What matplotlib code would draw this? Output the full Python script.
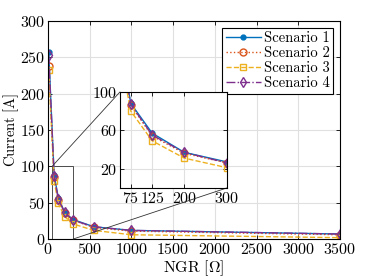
import numpy as np
import matplotlib
matplotlib.use("Agg")
import matplotlib.pyplot as plt
from mpl_toolkits.axes_grid1.inset_locator import mark_inset

plt.rcParams['font.family'] = ['cmr10', 'DejaVu Serif']
plt.rcParams['mathtext.fontset'] = 'cm'
plt.rcParams['axes.formatter.use_mathtext'] = True
plt.rcParams['font.size'] = 11.5

# data
ngr = [10, 75, 125, 200, 300, 550, 1000, 3500]
s1 = [257, 88, 57, 37, 27, 17, 12, 7]
s2 = [238, 86, 54, 36, 26, 16, 11, 6]
s3 = [232, 80, 49, 31, 21, 12, 6, 2]
s4 = [253, 87, 55, 37, 26, 17, 12, 7]
labels = ['Scenario 1', 'Scenario 2', 'Scenario 3', 'Scenario 4']

styles = [
    dict(color='#0072BD', ls='-', marker='.', ms=7, mfc='#0072BD'),
    dict(color='#D95319', ls=':', marker='o', ms=5, mfc='none'),
    dict(color='#EDB120', ls='--', marker='s', ms=5, mfc='none'),
    dict(color='#7E2F8E', ls='-.', marker='d', ms=5, mfc='none'),
]

fig = plt.figure(figsize=(3.74, 2.8), dpi=100)
ax = fig.add_axes([0.128, 0.146, 0.781, 0.779])

def draw(a):
    for y, lab, st in zip([s1, s2, s3, s4], labels, styles):
        a.plot(ngr, y, lw=1.0, mew=1.0, label=lab, **st)
    a.grid(True, color='#e0e0e0', lw=0.8)
    a.set_axisbelow(True)
    a.tick_params(direction='in', top=True, right=True, length=3, width=0.6,
                  pad=2)
    for sp in a.spines.values():
        sp.set_linewidth(0.8)

draw(ax)
ax.set_xlim(0, 3500)
ax.set_ylim(0, 300)
ax.set_xticks(np.arange(0, 3501, 500))
ax.set_yticks(np.arange(0, 301, 50))
ax.set_xlabel(r'$\mathrm{NGR\ [\Omega]}$', labelpad=1, fontsize=11.5)
ax.set_ylabel(r'$\mathrm{Current\ [A]}$', labelpad=-1, fontsize=10.5)
leg = ax.legend(loc='upper right', fancybox=False, edgecolor='black',
                framealpha=1, handlelength=2.4, borderpad=0.25,
                labelspacing=0.1, handletextpad=0.2, borderaxespad=0.45,
                fontsize=10.5)
leg.get_frame().set_linewidth(0.8)

axin = fig.add_axes([0.321, 0.329, 0.286, 0.343])
draw(axin)
axin.set_xlim(50, 300)
axin.set_ylim(0, 100)
axin.set_xticks([75, 125, 200, 300])
axin.set_yticks([20, 60, 100])

mark_inset(ax, axin, loc1=2, loc2=4, fc='none', ec='#333333', lw=0.6)

fig.savefig('out.png', dpi=100)
